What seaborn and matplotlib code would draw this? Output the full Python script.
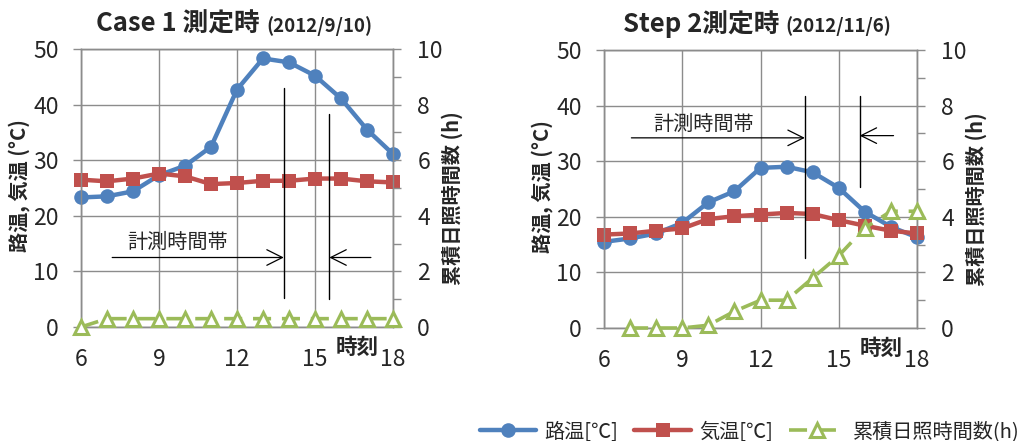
import numpy as np
import pandas as pd
import matplotlib
matplotlib.use("Agg")
import matplotlib.pyplot as plt
from matplotlib.ticker import MultipleLocator
import seaborn as sns

sns.set_style("white")
plt.rcParams["font.family"] = ["Noto Sans CJK JP", "DejaVu Sans"]

hours = list(range(6, 19))

# Case 1 (2012/9/10)
case1_road = [23.3, 23.5, 24.4, 27.3, 29.0, 32.4, 42.7, 48.3, 47.6, 45.2, 41.1, 35.5, 31.1]
case1_air = [26.5, 26.2, 26.7, 27.6, 27.1, 25.7, 25.9, 26.3, 26.3, 26.7, 26.7, 26.2, 26.0]
case1_sun = [0.0, 0.3, 0.3, 0.3, 0.3, 0.3, 0.3, 0.3, 0.3, 0.3, 0.3, 0.3, 0.3]

# Step 2 (2012/11/6)
step2_road = [15.5, 16.1, 17.0, 18.9, 22.6, 24.6, 28.8, 29.0, 28.0, 25.2, 20.9, 18.2, 16.3]
step2_air = [16.8, 17.0, 17.5, 17.9, 19.6, 20.1, 20.4, 20.7, 20.5, 19.4, 18.4, 17.5, 17.0]
step2_sun = [np.nan, 0.0, 0.0, 0.0, 0.1, 0.6, 1.0, 1.0, 1.8, 2.6, 3.6, 4.2, 4.2]

series_labels = ["路温[℃]", "気温[℃]", "累積日照時間数(h)"]
titles = [("Case 1 測定時", "(2012/9/10)"), ("Step 2測定時", "(2012/11/6)")]

# measurement window: (vertical line x, y range) and arrow rows
windows = [
    dict(lines=[(13.8, 5.2, 43.0), (15.55, 5.0, 38.3)],
         arrows=[(7.2, 13.8, 12.5), (17.15, 15.55, 12.5)],
         text=(9.7, 15.2)),
    dict(lines=[(13.7, 12.6, 41.7), (15.8, 25.4, 41.7)],
         arrows=[(7.05, 13.7, 34.2), (17.1, 15.8, 34.6)],
         text=(9.8, 36.7)),
]

BLUE = "#4F81BD"
RED = "#C0504D"
GREEN = "#9BBB59"
GRID = "#8C8C8C"

fig = plt.figure(figsize=(10.3, 4.41), dpi=100)
ax_rects = [
    [81 / 1030, 1 - 327 / 441, 312 / 1030, 278 / 441],
    [604 / 1030, 1 - 328 / 441, 313 / 1030, 278 / 441],
]
title_split = [262 / 1030, 781 / 1030]
datasets = [
    (case1_road, case1_air, case1_sun),
    (step2_road, step2_air, step2_sun),
]

handles = []
for i, (rect, (road, air, sun), win) in enumerate(zip(ax_rects, datasets, windows)):
    df = pd.DataFrame({"hour": hours, "road": road, "air": air, "sun": sun})
    ax = fig.add_axes(rect)
    ax2 = ax.twinx()

    sns.lineplot(data=df, x="hour", y="road", ax=ax, color=BLUE, lw=3.2,
                 marker="o", markersize=10.5, markeredgewidth=0,
                 label=series_labels[0], zorder=3, clip_on=False)
    sns.lineplot(data=df, x="hour", y="air", ax=ax, color=RED, lw=3.2,
                 marker="s", markersize=10, markeredgewidth=0,
                 label=series_labels[1], zorder=4, clip_on=False)
    sns.lineplot(data=df.dropna(), x="hour", y="sun", ax=ax2, color=GREEN, lw=2.6,
                 linestyle=(0, (5, 3)), marker="^", markersize=10.5,
                 markerfacecolor="white", markeredgecolor=GREEN,
                 markeredgewidth=2.2, label=series_labels[2], zorder=5,
                 clip_on=False)
    if i == 0:
        handles = ax.get_lines()[:2] + ax2.get_lines()[:1]
    for a in (ax, ax2):
        if a.get_legend() is not None:
            a.get_legend().remove()

    ax.set_xlim(6, 18)
    ax.set_ylim(0, 50)
    ax2.set_ylim(0, 10)
    ax.xaxis.set_major_locator(MultipleLocator(3))
    ax.xaxis.set_minor_locator(MultipleLocator(1))
    ax.yaxis.set_major_locator(MultipleLocator(10))
    ax2.yaxis.set_major_locator(MultipleLocator(2))
    ax2.yaxis.set_minor_locator(MultipleLocator(1))

    ax.grid(True, which="major", color=GRID, lw=1.0)
    ax.set_axisbelow(True)
    for a in (ax, ax2):
        for s in a.spines.values():
            s.set_color(GRID)
            s.set_linewidth(1.0)

    ax.tick_params(axis="both", which="both", direction="out", color=GRID,
                   labelsize=16.5, length=6, width=1)
    ax.tick_params(axis="x", which="major", pad=9)
    ax.tick_params(axis="y", which="major", pad=10)
    ax.tick_params(axis="x", which="minor", length=5)
    ax2.tick_params(axis="y", which="both", direction="out", color=GRID,
                    labelsize=16.5, length=6, width=1, pad=11.5)

    ax.set_xlabel("")
    ax.set_ylabel("路温, 気温 (°C)", fontsize=14.5, fontweight="bold")
    ax2.set_ylabel("累積日照時間数 (h)", fontsize=14.5, fontweight="bold")
    ax.yaxis.set_label_coords(-0.163, 0.51)
    ax2.yaxis.set_label_coords(1.155, 0.462)

    ax.text(16.62, -0.072, "時刻", transform=ax.get_xaxis_transform(),
            ha="center", va="center", fontsize=15.5, fontweight="bold")

    # measurement window markings
    for x, y0, y1 in win["lines"]:
        ax.plot([x, x], [y0, y1], color="black", lw=1.0, zorder=6)
    for x0, x1, y in win["arrows"]:
        ax.annotate("", xy=(x1, y), xytext=(x0, y),
                    arrowprops=dict(arrowstyle="->", color="black", lw=0.9,
                                    mutation_scale=28, shrinkA=0, shrinkB=0),
                    zorder=6)
    tx, ty = win["text"]
    ax.text(tx, ty, "計測時間帯", ha="center", va="center", fontsize=14.5, zorder=6)

    main, sub = titles[i]
    fig.text(title_split[i] - 2 / 1030, 1 - 32 / 441, main, ha="right",
             va="baseline", fontsize=18.5, fontweight="bold")
    fig.text(title_split[i] + 4 / 1030, 1 - 32 / 441, sub, ha="left",
             va="baseline", fontsize=13.5, fontweight="bold")

fig.legend(handles, series_labels, loc="center right",
           bbox_to_anchor=(1.0, 1 - 432 / 441), ncol=3, frameon=False,
           fontsize=14.5, handlelength=2.8, handletextpad=0.4,
           columnspacing=0.8, borderaxespad=0.1)

fig.savefig("out.png", dpi=100)
